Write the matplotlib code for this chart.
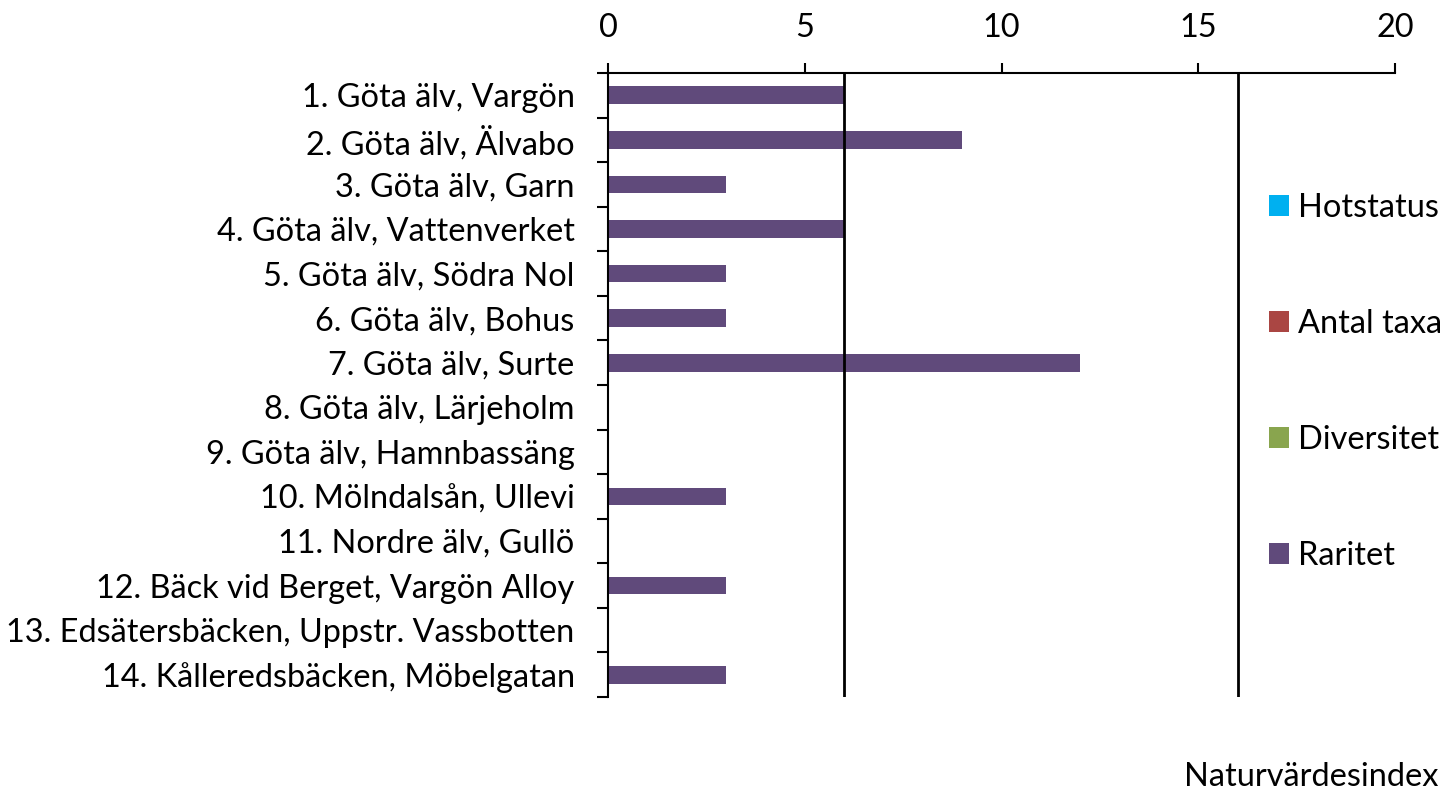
import matplotlib
matplotlib.use("Agg")
import matplotlib.pyplot as plt
from matplotlib.patches import Patch
import numpy as np

plt.rcParams['font.family'] = ['Lato', 'DejaVu Sans']

categories = [
    "1. Göta älv, Vargön",
    "2. Göta älv, Älvabo",
    "3. Göta älv, Garn",
    "4. Göta älv, Vattenverket",
    "5. Göta älv, Södra Nol",
    "6. Göta älv, Bohus",
    "7. Göta älv, Surte",
    "8. Göta älv, Lärjeholm",
    "9. Göta älv, Hamnbassäng",
    "10. Mölndalsån, Ullevi",
    "11. Nordre älv, Gullö",
    "12. Bäck vid Berget, Vargön Alloy",
    "13. Edsätersbäcken, Uppstr. Vassbotten",
    "14. Kålleredsbäcken, Möbelgatan",
]
series_names = ["Hotstatus", "Antal taxa", "Diversitet", "Raritet"]
hotstatus = [0] * 14
antal_taxa = [0] * 14
diversitet = [0] * 14
raritet = [6, 9, 3, 6, 3, 3, 12, 0, 0, 3, 0, 3, 0, 3]
thresholds = [6, 16]
xticks = [0, 5, 10, 15, 20]
colors = ["#00B0F0", "#AA4643", "#89A54E", "#604A7B"]

FS = 23.4
fig = plt.figure(figsize=(14.44, 7.91), dpi=100)
ax = fig.add_axes([608/1444, 1-697/791, (1395-608)/1444, (697-73)/791])

y = np.arange(len(categories))
for vals, c in zip([hotstatus, antal_taxa, diversitet, raritet], colors):
    ax.barh(y, vals, height=0.4, color=c, linewidth=0, zorder=2)

for t in thresholds:
    ax.axvline(t, color="black", linewidth=2.0, zorder=3)

ax.set_xlim(0, 20)
ax.set_ylim(len(categories)-0.5, -0.5)
ax.set_xticks(xticks)
ax.set_xticklabels([str(v) for v in xticks], fontsize=FS)
ax.xaxis.tick_top()
ax.tick_params(axis='x', direction='out', length=7.5, width=1.5, pad=14, colors='black')

ax.set_yticks(y)
ax.set_yticklabels(categories, fontsize=FS)
ax.tick_params(axis='y', which='major', length=0, pad=24)
ax.set_yticks(np.arange(-0.5, len(categories)), minor=True)
ax.tick_params(axis='y', which='minor', direction='out', length=8, width=1.5)

for s in ['right', 'bottom']:
    ax.spines[s].set_visible(False)
for s in ['left', 'top']:
    ax.spines[s].set_linewidth(1.5)

handles = [Patch(facecolor=c, edgecolor='none') for c in colors]
fig.legend(handles, series_names, loc='center left', bbox_to_anchor=(1269/1444, 1-382/791),
           frameon=False, fontsize=FS, handlelength=0.6, handleheight=0.6,
           handletextpad=0.3, labelspacing=2.65, borderaxespad=0, borderpad=0)

fig.text(1438/1444, 1-777/791, "Naturvärdesindex", fontsize=FS, ha='right', va='center')

fig.savefig("out.png", dpi=100)
